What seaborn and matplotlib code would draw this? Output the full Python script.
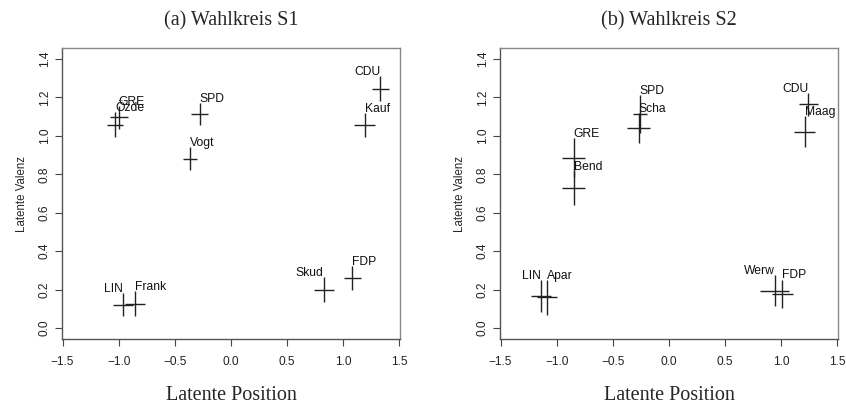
import seaborn as sns
import matplotlib.pyplot as plt

# Wahlkreis S1
names_s1 = ['CDU', 'Kauf', 'SPD', 'Vogt', 'GRE', 'Özde', 'LIN', 'Frank', 'Skud', 'FDP']
pos_s1 = [1.33, 1.19, -0.28, -0.365, -1.00, -1.03, -0.96, -0.855, 0.825, 1.08]
val_s1 = [1.245, 1.056, 1.113, 0.880, 1.096, 1.056, 0.123, 0.128, 0.200, 0.260]
pos_err_s1 = [0.077, 0.092, 0.074, 0.064, 0.080, 0.070, 0.089, 0.089, 0.089, 0.074]
val_err_s1 = [0.065, 0.060, 0.056, 0.060, 0.060, 0.065, 0.060, 0.067, 0.065, 0.063]

# Wahlkreis S2
names_s2 = ['CDU', 'Maag', 'SPD', 'Scha', 'GRE', 'Bend', 'LIN', 'Apar', 'Werw', 'FDP']
pos_s2 = [1.24, 1.21, -0.26, -0.27, -0.85, -0.85, -1.14, -1.085, 0.94, 1.01]
val_s2 = [1.164, 1.022, 1.112, 1.040, 0.887, 0.729, 0.167, 0.161, 0.195, 0.178]
pos_err_s2 = [0.086, 0.094, 0.060, 0.104, 0.100, 0.100, 0.090, 0.090, 0.130, 0.095]
val_err_s2 = [0.060, 0.082, 0.100, 0.078, 0.100, 0.090, 0.085, 0.090, 0.080, 0.075]

x_ticks = [-1.5, -1.0, -0.5, 0.0, 0.5, 1.0, 1.5]
y_ticks = [0.0, 0.2, 0.4, 0.6, 0.8, 1.0, 1.2, 1.4]

# which side of the cross the label goes
left_labels = {'CDU', 'LIN', 'Skud', 'Werw'}

sns.set_style('ticks')
plt.rcParams['font.family'] = ['Liberation Sans', 'DejaVu Sans']

fig = plt.figure(figsize=(8.46, 4.04), dpi=100)
ax_a = fig.add_axes([62 / 846, 65 / 404, 338 / 846, 291 / 404])
ax_b = fig.add_axes([500 / 846, 65 / 404, 338 / 846, 291 / 404])

panels = [
    (ax_a, '(a) Wahlkreis S1', names_s1, pos_s1, val_s1, pos_err_s1, val_err_s1),
    (ax_b, '(b) Wahlkreis S2', names_s2, pos_s2, val_s2, pos_err_s2, val_err_s2),
]


def fmt(t):
    return f'{t:.1f}'.replace('-', '\u2212')


for ax, title, names, xs, ys, xe, ye in panels:
    ax.errorbar(xs, ys, xerr=xe, yerr=ye, fmt='none', ecolor='#222222',
                elinewidth=1.0, capsize=0)
    for n, x, y, e in zip(names, xs, ys, ye):
        side = 'right' if n in left_labels else 'left'
        ax.text(x, y + e - 0.01, n, ha=side, va='bottom', fontsize=8.7,
                color='#111111')

    ax.set_xlim(-1.505, 1.505)
    ax.set_ylim(-0.056, 1.456)
    ax.set_xticks(x_ticks)
    ax.set_yticks(y_ticks)
    ax.set_xticklabels([fmt(t) for t in x_ticks])
    ax.set_yticklabels([fmt(t) for t in y_ticks], rotation=90, va='center')
    ax.tick_params(axis='both', direction='out', length=5, width=0.8,
                   color='#444444', labelsize=8.6, labelcolor='#222222')
    ax.tick_params(axis='x', pad=7)
    ax.tick_params(axis='y', pad=3)
    for side in ['left', 'bottom']:
        ax.spines[side].set_color('#555555')
        ax.spines[side].set_linewidth(1.0)
    for side in ['top', 'right']:
        ax.spines[side].set_color('#888888')
        ax.spines[side].set_linewidth(1.0)

    ax.set_title(title, family='Liberation Serif', fontsize=14.5, pad=16)
    ax.set_xlabel('Latente Position', family='Liberation Serif', fontsize=14.5,
                  labelpad=13)
    ax.set_ylabel('Latente Valenz', fontsize=8.3, labelpad=8)

fig.savefig('out.png', dpi=100)
